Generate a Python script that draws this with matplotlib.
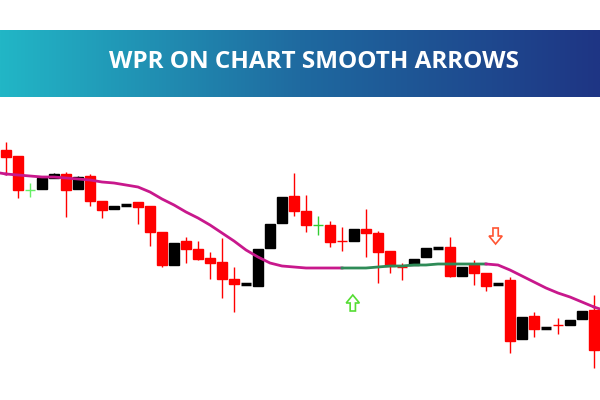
import numpy as np
import matplotlib
matplotlib.use("Agg")
import matplotlib.pyplot as plt
from matplotlib.colors import LinearSegmentedColormap

# candle data (price scale shown inverted)
opens  = [150,156,190,189,178,174,189,176,201,209,205,202,206,232,265,241,249,258,262,279,284,286,248,223,196,211,225,225,241,241,229,233,251,267,265,257,248,247,276,265,273,284,280,339,316,328,325,325,319,310]
closes = [157,190,190,178,174,190,177,201,210,206,204,207,232,265,243,249,259,263,279,284,283,249,224,197,211,225,225,242,241,229,233,252,266,267,259,248,247,276,267,273,286,283,341,317,329,327,325,320,311,350]
highs  = [142,156,183,177,173,172,176,174,201,206,204,202,206,232,243,237,241,252,238,267,283,249,224,197,173,195,216,221,227,229,209,231,251,263,259,248,247,237,267,260,273,283,277,317,312,327,318,320,311,295]
lows   = [175,198,197,189,178,217,189,206,218,209,205,224,246,267,265,263,260,279,298,312,284,286,248,223,216,232,235,247,251,241,257,283,273,280,265,257,248,277,276,285,291,284,353,339,337,328,334,325,319,368]
cross_color = {2: "#66ee66", 26: "#33cc33"}
ma = [174,175,176,177,177,178,179,180,182,183,185,187,192,199,205,212,218,225,233,241,250,257,263,266,267,268,268,268,268,268,268,267,266,266,265,265,264,264,264,264,264,265,270,276,282,288,293,297,302,307]
green_from, green_to = 28, 40
up_arrow = (28.9, 303)
down_arrow = (40.8, 236)
title = "WPR ON CHART SMOOTH ARROWS"

fig = plt.figure(figsize=(6, 4), dpi=100)
ax = fig.add_axes([0, 0, 1, 1])
ax.set_xlim(-0.5, 49.5)
ax.set_ylim(400, 0)
ax.axis("off")

for i, (o, c, h, l) in enumerate(zip(opens, closes, highs, lows)):
    bear = c >= o
    col = "#ff0000" if bear else "#000000"
    if i in cross_color:
        col = cross_color[i]
    lo, hi = min(o, c), max(o, c)
    ax.vlines(i, h, l, color=col, lw=1, zorder=2)
    if hi - lo < 1.5:
        thin = i in cross_color or o == c
        ax.hlines((o + c) / 2, i - 0.38, i + 0.38, color=col, lw=1 if thin else 2.5, zorder=3)
    else:
        ax.add_patch(plt.Rectangle((i - 0.38, lo), 0.76, hi - lo, color=col, zorder=3))

x = np.arange(len(ma))
ax.plot(x[:green_from + 1], ma[:green_from + 1], color="#c8188c", lw=2, zorder=4)
ax.plot(x[green_from:green_to + 1], ma[green_from:green_to + 1], color="#2e8b57", lw=2, zorder=4)
ax.plot(x[green_to:], ma[green_to:], color="#c8188c", lw=2, zorder=4)
ax.plot([-0.5, 0], [173, 174], color="#c8188c", lw=2)
ax.plot([49, 49.5], [307, 309], color="#c8188c", lw=2)

def arrow(cx, cy, up, ec):
    hw, sw = 0.55, 0.22
    s = -1 if up else 1
    pts = [(cx, cy + s * 8), (cx + hw, cy), (cx + sw, cy), (cx + sw, cy - s * 8),
           (cx - sw, cy - s * 8), (cx - sw, cy), (cx - hw, cy)]
    ax.add_patch(plt.Polygon(pts, closed=True, fc="white", ec=ec, lw=1.2, zorder=5))

arrow(*up_arrow, True, "#55dd33")
arrow(*down_arrow, False, "#ff5533")

hax = fig.add_axes([0, 1 - 97 / 400, 1, 67 / 400])
grad = np.linspace(0, 1, 256).reshape(1, -1)
cmap = LinearSegmentedColormap.from_list("h", ["#22b6c6", "#1f6aa0", "#1e3584"])
hax.imshow(grad, aspect="auto", cmap=cmap, extent=[0, 1, 0, 1])
hax.axis("off")
hax.text(0.523, 0.52, title, color="white", fontsize=17.5, fontweight="bold",
         family="Open Sans", ha="center", va="center")

fig.savefig("out.png", dpi=100)
